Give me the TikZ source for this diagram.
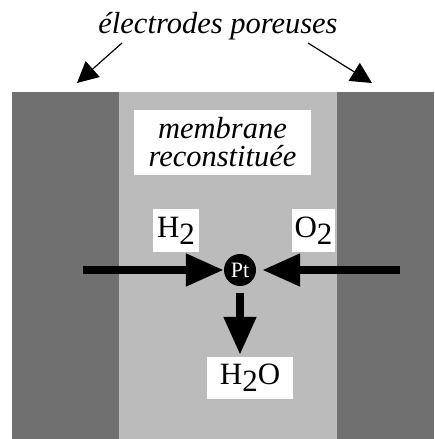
\documentclass[tikz,border=0pt]{standalone}
\usepackage{fontspec}
\setmainfont{Liberation Serif}
\usetikzlibrary{arrows.meta}
\definecolor{darkg}{HTML}{707070}
\definecolor{lightg}{HTML}{BBBBBB}
\begin{document}
\begin{tikzpicture}[x=1pt,y=-1pt,
  lbl/.style={fill=white, inner sep=0pt, font=\fontsize{31}{28}\selectfont},
  bigarrow/.style={line width=8pt, -{Triangle[length=38pt,width=31pt]}},
  thinarrow/.style={line width=1.2pt, -{Triangle[length=21pt,width=21pt]}}]
\useasboundingbox (0,0) rectangle (434,439);
\fill[darkg] (12,92) rectangle (434,439);
\fill[lightg] (119,92) rectangle (337,439);
\node[anchor=base, font=\fontsize{30.5}{30}\selectfont\itshape] (title) at (218,33) {électrodes poreuses};
\coordinate (ls) at (122,43);
\coordinate (le) at (77,83);
\coordinate (rs) at (308,43);
\coordinate (re) at (372,83);
\draw[thinarrow] (ls) -- (le);
\draw[thinarrow] (rs) -- (re);
\node[lbl, font=\fontsize{30.5}{28}\selectfont\itshape, align=center, minimum width=177pt, minimum height=65pt] (memb) at (222.5,142.5) {membrane\\reconstituée};
\node[lbl, minimum width=46pt, minimum height=43pt] (h2) at (176,230.5) {H\raisebox{-0.22em}{2}};
\node[lbl, minimum width=43pt, minimum height=43pt] (o2) at (313.5,230.5) {O\raisebox{-0.22em}{2}};
\node[lbl, minimum width=86pt, minimum height=42pt] (h2o) at (250,378) {H\raisebox{-0.22em}{2}O};
\node[circle, fill=black, minimum size=32pt, inner sep=0pt, text=white, font=\fontsize{22}{22}\selectfont] (pt) at (240,270) {Pt};
\coordinate (hin) at (83,270);
\coordinate (oin) at (400,270);
\draw[bigarrow] (hin) -- (pt);
\draw[bigarrow, shorten >=6pt] (oin) -- (pt);
\draw[bigarrow, shorten <=7pt, shorten >=2pt] (pt) -- (pt |- h2o.north);
\end{tikzpicture}
\end{document}
